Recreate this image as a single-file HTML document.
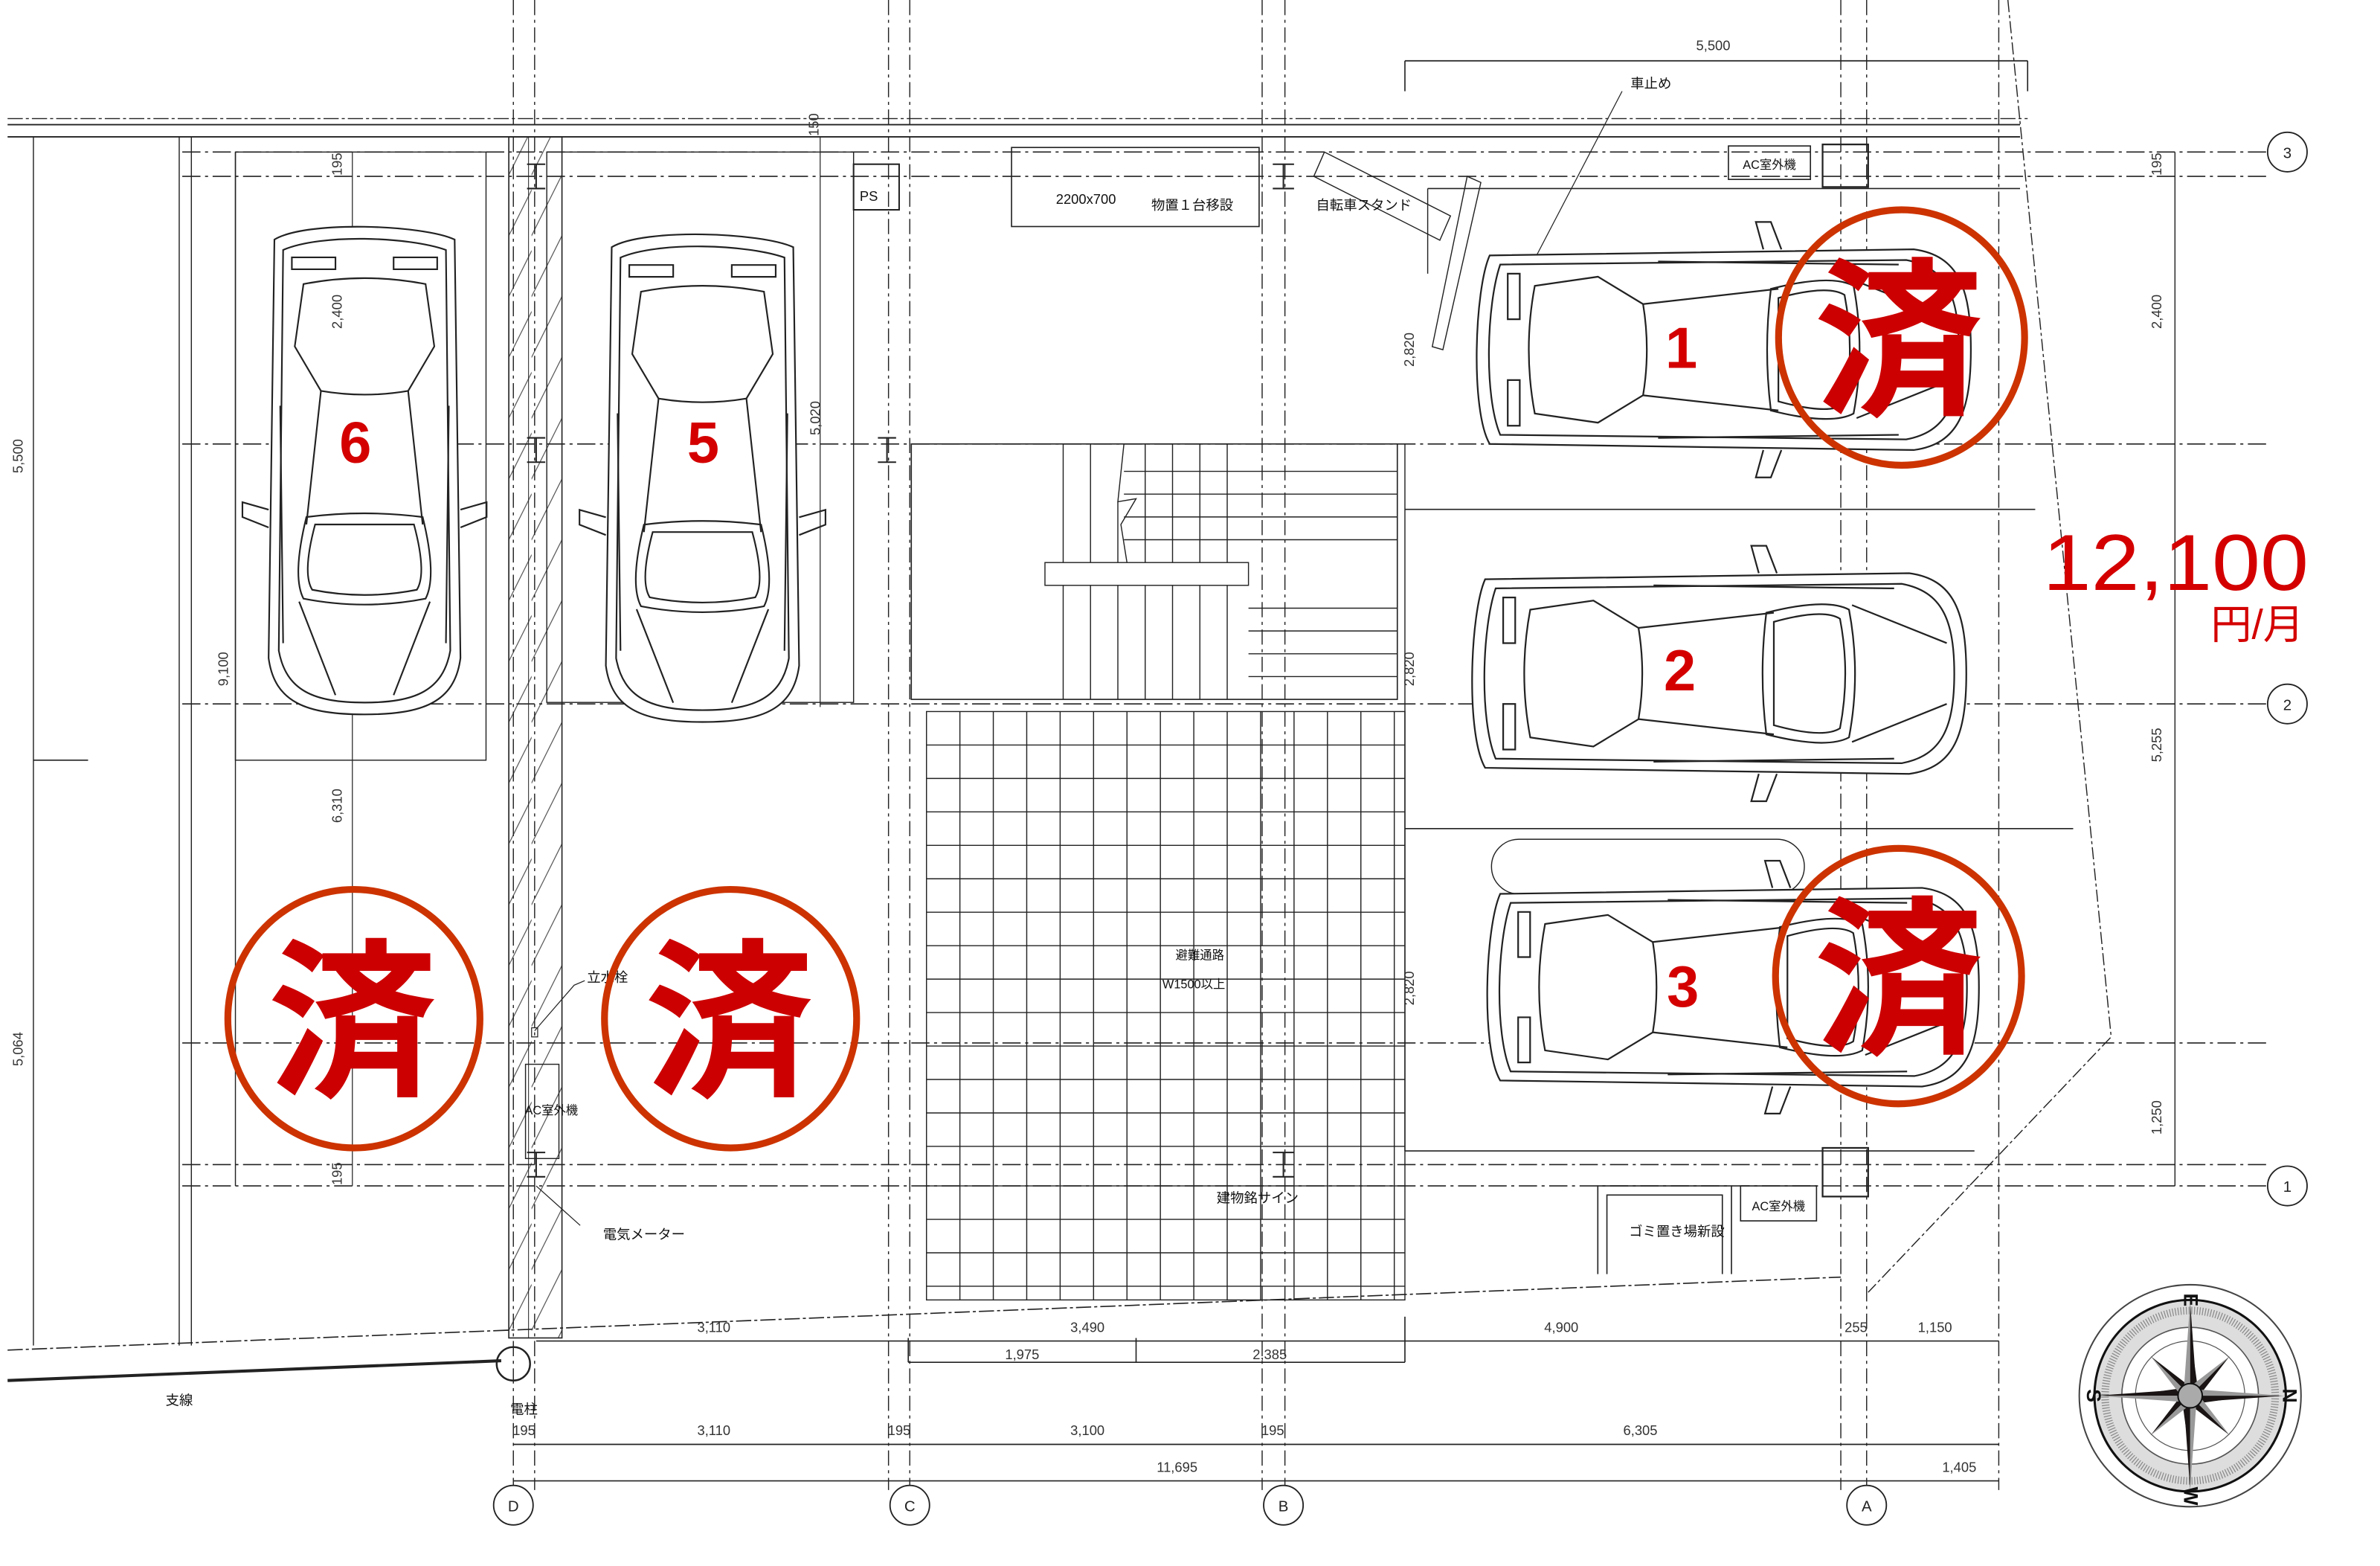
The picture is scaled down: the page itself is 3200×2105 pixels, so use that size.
<!DOCTYPE html>
<html><head><meta charset="utf-8">
<style>
html,body{margin:0;padding:0;background:#fff;}
svg{display:block;}
text{font-family:"Liberation Sans","Noto Sans CJK JP",sans-serif;}
.dim{font-size:9px;fill:#333;}
.lbl{font-size:9px;fill:#111;}
</style></head>
<body>
<svg width="3200" height="2105" viewBox="0 0 1567 1030" preserveAspectRatio="none" xmlns="http://www.w3.org/2000/svg">
<defs>
<pattern id="hatch" patternUnits="userSpaceOnUse" width="35" height="40">
<path d="M-5,45 L40,-45 M-5,85 L40,-5 M-5,5 L40,-85" stroke="#333" stroke-width="0.5" fill="none"/>
</pattern>
<g id="car" fill="none" stroke="#222" stroke-width="1.1">
<path d="M18,8 C8,30 5,110 18,132 L300,136 C330,132 338,110 338,70 C338,30 330,8 300,4 Z" fill="#fff"/>
<path d="M25,14 C16,40 14,100 25,126 L295,129 C322,124 330,105 330,70 C330,35 322,16 295,11 Z"/>
<path d="M48,28 L90,22 L120,40 Q125,70 120,100 L90,118 L48,112 Q40,70 48,28 Z"/>
<path d="M120,40 L210,30 M120,100 L210,110"/>
<path d="M205,30 Q245,20 260,28 Q268,70 260,112 Q245,120 205,110 Q200,70 205,30 Z"/>
<path d="M210,36 Q243,27 254,34 Q261,70 254,106 Q243,113 210,104 Z"/>
<path d="M262,25 L325,50 M262,115 L325,90"/>
<path d="M200,4 L195,-14 L205,-14 L212,4 M200,136 L195,154 L205,154 L212,136"/>
<path d="M30,20 h8 v30 h-8z M30,90 h8 v30 h-8 z"/>
<path d="M130,12 L290,14 M130,128 L290,126"/>
</g>
</defs>

<rect x="335" y="90" width="35" height="790" fill="url(#hatch)" stroke="#222" stroke-width="0.8"/>
<line x1="348" y1="90" x2="348" y2="880" stroke="#222" stroke-width="0.5"/>

<g stroke="#222" fill="none">
<line x1="5" y1="78" x2="1335" y2="78" stroke-width="0.7" stroke-dasharray="10,2,2,2"/>
<line x1="5" y1="82" x2="1330" y2="82" stroke-width="0.9"/>
<line x1="5" y1="90" x2="1330" y2="90" stroke-width="0.9"/>
<g stroke-width="0.8" stroke-dasharray="12,3,2,3">
<line x1="120" y1="100" x2="1494" y2="100"/>
<line x1="120" y1="116" x2="1494" y2="116"/>
<line x1="120" y1="292" x2="1494" y2="292"/>
<line x1="120" y1="463" x2="1494" y2="463"/>
<line x1="120" y1="686" x2="1494" y2="686"/>
<line x1="120" y1="766" x2="1494" y2="766"/>
<line x1="120" y1="780" x2="1494" y2="780"/>
</g>
<g stroke-width="0.7" stroke-dasharray="10,3,2,3">
<line x1="338" y1="0" x2="338" y2="980"/><line x1="352" y1="0" x2="352" y2="980"/>
<line x1="585" y1="0" x2="585" y2="980"/><line x1="599" y1="0" x2="599" y2="980"/>
<line x1="831" y1="0" x2="831" y2="980"/><line x1="846" y1="0" x2="846" y2="980"/>
<line x1="1212" y1="0" x2="1212" y2="980"/><line x1="1229" y1="0" x2="1229" y2="980"/>
<line x1="1316" y1="0" x2="1316" y2="980"/>
</g>
<path d="M1322,0 L1390,682 L1230,850" stroke-width="0.7" stroke-dasharray="8,2,2,2"/>
<path d="M5,888 L1212,840" stroke-width="0.8" stroke-dasharray="10,2,2,2"/>
<path d="M5,908 L330,895" stroke-width="2"/>
<circle cx="338" cy="897" r="11" stroke-width="1.2"/>

<line x1="22" y1="90" x2="22" y2="885" stroke-width="0.7"/>
<line x1="22" y1="500" x2="58" y2="500" stroke-width="0.8"/>
<line x1="118" y1="90" x2="118" y2="885" stroke-width="0.7"/>
<line x1="126" y1="90" x2="126" y2="885" stroke-width="0.7"/>
<line x1="155" y1="100" x2="155" y2="780" stroke-width="0.7"/>
<rect x="155" y="100" width="165" height="400" stroke-width="0.7"/>
<rect x="360" y="100" width="202" height="362" stroke-width="0.7"/>
<line x1="232" y1="100" x2="232" y2="780" stroke-width="0.6"/>
<line x1="540" y1="90" x2="540" y2="465" stroke-width="0.6"/>

<line x1="940" y1="124" x2="1330" y2="124" stroke-width="0.8"/>
<line x1="940" y1="124" x2="940" y2="180" stroke-width="0.7"/>
<line x1="925" y1="335" x2="1340" y2="335" stroke-width="0.8"/>
<line x1="925" y1="545" x2="1365" y2="545" stroke-width="0.8"/>
<line x1="925" y1="757" x2="1300" y2="757" stroke-width="0.8"/>
<line x1="925" y1="292" x2="925" y2="757" stroke-width="0.7"/>
<line x1="1432" y1="100" x2="1432" y2="780" stroke-width="0.7"/>
<path d="M1000,552 H1170 A18,18 0 0 1 1170,588 H1000 A18,18 0 0 1 1000,552Z" stroke-width="0.7"/>

<rect x="600" y="292" width="320" height="168" stroke-width="0.8"/>
<g stroke-width="0.7">
<path d="M700,292 V460 M718,292 V460 M736,330 V460 M754,292 V460 M772,292 V460 M790,292 V460 M808,292 V460"/>
<path d="M740,310 H920 M740,325 H920 M740,340 H920 M740,355 H920 M822,400 H920 M822,415 H920 M822,430 H920 M822,445 H920"/>
<path d="M740,292 L736,330 L748,328 L738,345 L742,370" />
<rect x="688" y="370" width="134" height="15" fill="#fff"/>
</g>
<g stroke-width="0.7">
<rect x="610" y="468" width="315" height="387"/>
<path d="M632,468V855 M654,468V855 M676,468V855 M698,468V855 M720,468V855 M742,468V855 M764,468V855 M786,468V855 M808,468V855 M830,468V855 M852,468V855 M874,468V855 M896,468V855 M918,468V855"/>
<path d="M610,490H925 M610,512H925 M610,534H925 M610,556H925 M610,578H925 M610,600H925 M610,622H925 M610,644H925 M610,666H925 M610,688H925 M610,710H925 M610,732H925 M610,754H925 M610,780H925 M610,802H925 M610,824H925 M610,846H925"/>
</g>

<rect x="562" y="108" width="30" height="30" stroke-width="1"/>
<rect x="666" y="97" width="163" height="52" stroke-width="0.8"/>
<path d="M872,100 L955,142 L948,158 L865,116 Z" stroke-width="0.7"/>
<path d="M966,116 L975,120 L950,230 L943,228 Z" stroke-width="0.7"/>
<rect x="1138" y="96" width="54" height="22" stroke-width="0.8"/>
<rect x="1200" y="95" width="30" height="28" stroke-width="1.1"/>
<rect x="1146" y="780" width="50" height="23" stroke-width="0.8"/>
<rect x="1200" y="755" width="30" height="32" stroke-width="1.1"/>
<path d="M1052,838 V780 H1140 V838 M1058,838 V786 H1134 V838" stroke-width="0.8"/>
<rect x="346" y="700" width="22" height="62" stroke-width="0.7"/>
<rect x="350" y="676" width="4" height="6" stroke-width="0.6"/>
<g stroke-width="1">
<path d="M347,108 h12 M353,108 v16 M347,124 h12"/>
<path d="M347,288 h12 M353,288 v16 M347,304 h12"/>
<path d="M347,758 h12 M353,758 v16 M347,774 h12"/>
<path d="M578,288 h12 M584,288 v16 M578,304 h12"/>
<path d="M838,108 h14 M845,108 v16 M838,124 h14"/>
<path d="M838,758 h14 M845,758 v16 M838,774 h14"/>
</g>
<path d="M1068,60 L995,200" stroke-width="0.6"/>
<path d="M385,645 L378,648 L352,678" stroke-width="0.6"/>
<path d="M353,780 L382,806" stroke-width="0.6"/>

<g stroke-width="0.8">
<path d="M925,40 H1335 M925,40 V60 M1335,40 V60"/>
<path d="M353,882 H1316"/>
<path d="M598,896 H925 M598,880 V896 M748,880 V896 M925,866 V896"/>
<path d="M338,950 H1316"/>
<path d="M338,974 H1316"/>
</g>
</g>

<use href="#car" transform="translate(963,160) scale(0.99,1)"/>
<use href="#car" transform="translate(960,373) scale(0.99,1)"/>
<use href="#car" transform="translate(970,580) scale(0.985,0.99)"/>
<use href="#car" transform="translate(307,140) rotate(90) scale(0.976,0.957)"/>
<use href="#car" transform="translate(530,145) rotate(90) scale(0.976,0.964)"/>

<g class="dim">
<text x="1128" y="33" text-anchor="middle">5,500</text>
<text x="470" y="876" text-anchor="middle">3,110</text>
<text x="716" y="876" text-anchor="middle">3,490</text>
<text x="1028" y="876" text-anchor="middle">4,900</text>
<text x="1222" y="876" text-anchor="middle">255</text>
<text x="1274" y="876" text-anchor="middle">1,150</text>
<text x="673" y="894" text-anchor="middle">1,975</text>
<text x="836" y="894" text-anchor="middle">2,385</text>
<text x="345" y="944" text-anchor="middle">195</text>
<text x="470" y="944" text-anchor="middle">3,110</text>
<text x="592" y="944" text-anchor="middle">195</text>
<text x="716" y="944" text-anchor="middle">3,100</text>
<text x="838" y="944" text-anchor="middle">195</text>
<text x="1080" y="944" text-anchor="middle">6,305</text>
<text x="775" y="968" text-anchor="middle">11,695</text>
<text x="1290" y="968" text-anchor="middle">1,405</text>
<text transform="translate(15,300) rotate(-90)" text-anchor="middle">5,500</text>
<text transform="translate(15,690) rotate(-90)" text-anchor="middle">5,064</text>
<text transform="translate(150,440) rotate(-90)" text-anchor="middle">9,100</text>
<text transform="translate(225,108) rotate(-90)" text-anchor="middle">195</text>
<text transform="translate(225,205) rotate(-90)" text-anchor="middle">2,400</text>
<text transform="translate(225,530) rotate(-90)" text-anchor="middle">6,310</text>
<text transform="translate(225,772) rotate(-90)" text-anchor="middle">195</text>
<text transform="translate(540,275) rotate(-90)" text-anchor="middle">5,020</text>
<text transform="translate(539,82) rotate(-90)" text-anchor="middle">150</text>
<text transform="translate(931,230) rotate(-90)" text-anchor="middle">2,820</text>
<text transform="translate(931,440) rotate(-90)" text-anchor="middle">2,820</text>
<text transform="translate(931,650) rotate(-90)" text-anchor="middle">2,820</text>
<text transform="translate(1423,108) rotate(-90)" text-anchor="middle">195</text>
<text transform="translate(1423,205) rotate(-90)" text-anchor="middle">2,400</text>
<text transform="translate(1423,490) rotate(-90)" text-anchor="middle">5,255</text>
<text transform="translate(1423,735) rotate(-90)" text-anchor="middle">1,250</text>
</g>
<g class="lbl">
<text x="1087" y="58" text-anchor="middle">車止め</text>
<text x="566" y="132">PS</text>
<text x="715" y="134" text-anchor="middle">2200x700</text>
<text x="785" y="138" text-anchor="middle">物置１台移設</text>
<text x="898" y="138" text-anchor="middle">自転車スタンド</text>
<text x="1165" y="111" text-anchor="middle" font-size="8">AC室外機</text>
<text x="1171" y="796" text-anchor="middle" font-size="8">AC室外機</text>
<text x="1104" y="813" text-anchor="middle">ゴミ置き場新設</text>
<text x="790" y="631" text-anchor="middle" font-size="8">避難通路</text>
<text x="786" y="650" text-anchor="middle" font-size="8">W1500以上</text>
<text x="828" y="791" text-anchor="middle">建物銘サイン</text>
<text x="400" y="646" text-anchor="middle">立水栓</text>
<text x="363" y="733" text-anchor="middle" font-size="8">AC室外機</text>
<text x="424" y="815" text-anchor="middle">電気メーター</text>
<text x="118" y="924" text-anchor="middle">支線</text>
<text x="345" y="930" text-anchor="middle">電柱</text>
</g>

<g fill="#fff" stroke="#222" stroke-width="0.9">
<circle cx="338" cy="990" r="13"/><circle cx="599" cy="990" r="13"/>
<circle cx="845" cy="990" r="13"/><circle cx="1229" cy="990" r="13"/>
<circle cx="1506" cy="100" r="13"/><circle cx="1506" cy="463" r="13"/><circle cx="1506" cy="780" r="13"/>
</g>
<g font-size="10" text-anchor="middle" fill="#222">
<text x="338" y="994">D</text><text x="599" y="994">C</text><text x="845" y="994">B</text><text x="1229" y="994">A</text>
<text x="1506" y="104">3</text><text x="1506" y="467">2</text><text x="1506" y="784">1</text>
</g>

<g transform="translate(1442,918)">
<circle r="73" fill="#fff" stroke="#444" stroke-width="1"/>
<circle r="63" fill="#ddd" stroke="#111" stroke-width="1.5"/>
<circle r="45" fill="#fff" stroke="#555" stroke-width="0.8"/>
<circle r="36" fill="#fff" stroke="#555" stroke-width="0.6"/>
<circle r="56" fill="none" stroke="#888" stroke-width="5" stroke-dasharray="0.6,1.2"/>
<g fill="#1a1414">
<path d="M0,-42 L5,-5 L0,0Z M42,0 L5,5 L0,0Z M0,42 L-5,5 L0,0Z M-42,0 L-5,-5 L0,0Z"/>
<path d="M26,-26 L6,0 L0,0Z M26,26 L0,6 L0,0Z M-26,26 L-6,0 L0,0Z M-26,-26 L0,-6 L0,0Z"/>
<path d="M0,-62 L4,-6 L0,0 Z M62,0 L6,4 L0,0Z M0,62 L-4,6 L0,0Z M-62,0 L-6,-4 L0,0Z"/>
</g>
<g fill="#999">
<path d="M0,-62 L-4,-6 L0,0 Z M62,0 L6,-4 L0,0Z M0,62 L4,6 L0,0Z M-62,0 L-6,4 L0,0Z"/>
<path d="M26,-26 L0,-6 L0,0Z M26,26 L6,0 L0,0Z M-26,26 L0,6 L0,0Z M-26,-26 L-6,0 L0,0Z"/>
</g>
<circle r="8" fill="#aaa" stroke="#111" stroke-width="1"/>
<g font-size="13" font-family="Liberation Serif" font-weight="bold" text-anchor="middle" fill="#111">
<text transform="translate(0,-63) rotate(90)" y="4">E</text>
<text transform="translate(0,66) rotate(90)" y="4">W</text>
<text transform="translate(-64,0) rotate(90)" y="4">S</text>
<text transform="translate(65,0) rotate(90)" y="4">N</text>
</g>
</g>

<g fill="none" stroke="#cc3300" stroke-width="4.5">
<ellipse cx="1252" cy="222" rx="81" ry="84"/>
<ellipse cx="1250" cy="642" rx="81" ry="84"/>
<ellipse cx="233" cy="670" rx="83" ry="85"/>
<ellipse cx="481" cy="670" rx="83" ry="85"/>
</g>
<g style="fill:#cc0000" font-family="'Noto Sans CJK JP',sans-serif" font-weight="bold" font-size="112" text-anchor="middle">
<text x="1250" y="264" style="fill:#cc0000">済</text>
<text x="1250" y="684" style="fill:#cc0000">済</text>
<text x="232" y="712" style="fill:#cc0000">済</text>
<text x="480" y="712" style="fill:#cc0000">済</text>
</g>
<g font-weight="bold" font-size="38" text-anchor="middle">
<text x="1107" y="242" style="fill:#d40000">1</text>
<text x="1106" y="454" style="fill:#d40000">2</text>
<text x="1108" y="662" style="fill:#d40000">3</text>
<text x="234" y="304" style="fill:#d40000">6</text>
<text x="463" y="304" style="fill:#d40000">5</text>
</g>
<text x="1345" y="388" font-size="52" style="fill:#d40000" textLength="175" lengthAdjust="spacingAndGlyphs">12,100</text>
<text x="1517" y="420" font-size="27" style="fill:#d40000" text-anchor="end">円/月</text>
</svg>
</body></html>
